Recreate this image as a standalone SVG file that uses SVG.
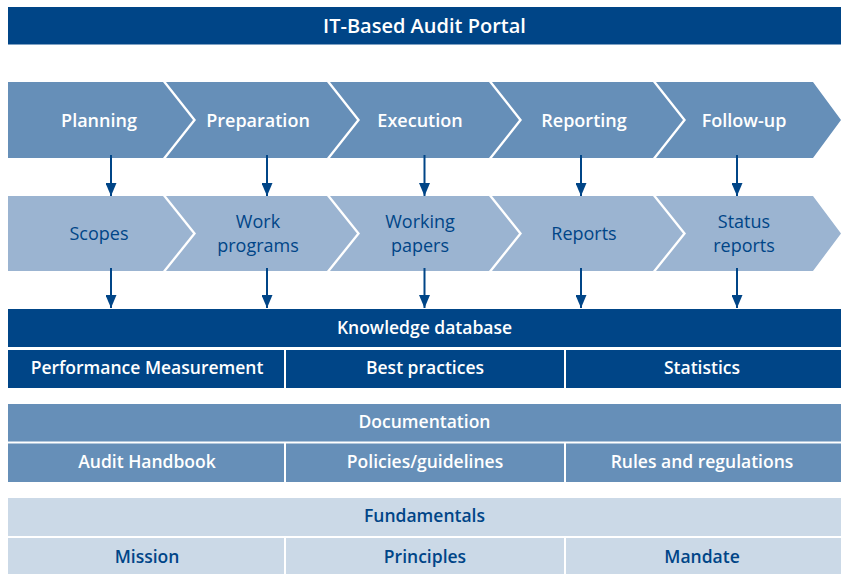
<svg xmlns="http://www.w3.org/2000/svg" width="841" height="574" viewBox="0 0 841 574">
<style>
  .dark{fill:#004587}
  .mid{fill:#668fb8}
  .light{fill:#9bb4d1}
  .pale{fill:#cbd9e7}
  text{font-family:"Open Sans","Noto Sans",sans-serif;text-anchor:middle}
  .tw{fill:#ffffff;font-weight:600;font-size:17.5px}
  .tb{fill:#004587;font-weight:600;font-size:17.5px}
  .tc{fill:#ffffff;font-weight:600;font-size:18px}
  .tr{fill:#004587;font-weight:400;font-size:18px}
  .conn{stroke:#004587;stroke-width:2;fill:none}
</style>
<defs>
  <marker id="ah" markerUnits="userSpaceOnUse" markerWidth="13" markerHeight="11" refX="13" refY="5.5" orient="auto">
    <path d="M0,0 L13,5.5 L0,11 z" fill="#004587"/>
  </marker>
</defs>
<rect width="841" height="574" fill="#ffffff"/>

<g id="portal">
  <rect class="dark" x="8" y="7" width="833" height="37.5"/>
  <text x="424.5" y="33" fill="#ffffff" style="font-weight:600;font-size:20px">IT-Based Audit Portal</text>
</g>

<g id="planning">
  <polygon class="mid" points="8,82 163,82 193,120 163,158 8,158"/>
  <text class="tc" x="99" y="127">Planning</text>
</g>
<g id="preparation">
  <polygon class="mid" points="166,82 327,82 357,120 327,158 166,158 196,120"/>
  <text class="tc" x="258" y="127">Preparation</text>
</g>
<g id="execution">
  <polygon class="mid" points="330,82 489,82 519,120 489,158 330,158 360,120"/>
  <text class="tc" x="420" y="127">Execution</text>
</g>
<g id="reporting">
  <polygon class="mid" points="492,82 653,82 683,120 653,158 492,158 522,120"/>
  <text class="tc" x="584" y="127">Reporting</text>
</g>
<g id="followup">
  <polygon class="mid" points="656,82 813,82 841,120 813,158 656,158 686,120"/>
  <text class="tc" x="744" y="127">Follow-up</text>
</g>

<g id="scopes">
  <polygon class="light" points="8,196 163,196 193,233.5 163,271 8,271"/>
  <text class="tr" x="99" y="240">Scopes</text>
</g>
<g id="workprograms">
  <polygon class="light" points="166,196 327,196 357,233.5 327,271 166,271 196,233.5"/>
  <text class="tr" x="258" y="228">Work</text>
  <text class="tr" x="258" y="252">programs</text>
</g>
<g id="workingpapers">
  <polygon class="light" points="330,196 489,196 519,233.5 489,271 330,271 360,233.5"/>
  <text class="tr" x="420" y="228">Working</text>
  <text class="tr" x="420" y="252">papers</text>
</g>
<g id="reports">
  <polygon class="light" points="492,196 653,196 683,233.5 653,271 492,271 522,233.5"/>
  <text class="tr" x="584" y="240">Reports</text>
</g>
<g id="statusreports">
  <polygon class="light" points="656,196 813,196 841,233.5 813,271 656,271 686,233.5"/>
  <text class="tr" x="744" y="228">Status</text>
  <text class="tr" x="744" y="252">reports</text>
</g>

<g id="knowledge">
  <rect class="dark" x="8" y="309" width="833" height="38"/>
  <text class="tw" x="424.5" y="334">Knowledge database</text>
</g>
<g id="performance">
  <rect class="dark" x="8" y="350" width="276" height="38"/>
  <text class="tw" x="147" y="374">Performance Measurement</text>
</g>
<g id="bestpractices">
  <rect class="dark" x="286" y="350" width="278" height="38"/>
  <text class="tw" x="425" y="374">Best practices</text>
</g>
<g id="statistics">
  <rect class="dark" x="566" y="350" width="275" height="38"/>
  <text class="tw" x="702" y="374">Statistics</text>
</g>

<g id="documentation">
  <rect class="mid" x="8" y="404" width="833" height="37.5"/>
  <text class="tw" x="424.5" y="428">Documentation</text>
</g>
<g id="handbook">
  <rect class="mid" x="8" y="443.5" width="276" height="38.5"/>
  <text class="tw" x="147" y="468">Audit Handbook</text>
</g>
<g id="policies">
  <rect class="mid" x="286" y="443.5" width="278" height="38.5"/>
  <text class="tw" x="425" y="468">Policies/guidelines</text>
</g>
<g id="rules">
  <rect class="mid" x="566" y="443.5" width="275" height="38.5"/>
  <text class="tw" x="702" y="468">Rules and regulations</text>
</g>

<g id="fundamentals">
  <rect class="pale" x="8" y="498" width="833" height="38"/>
  <text class="tb" x="424.5" y="522">Fundamentals</text>
</g>
<g id="mission">
  <rect class="pale" x="8" y="538" width="276" height="36"/>
  <text class="tb" x="147" y="563">Mission</text>
</g>
<g id="principles">
  <rect class="pale" x="286" y="538" width="278" height="36"/>
  <text class="tb" x="425" y="563">Principles</text>
</g>
<g id="mandate">
  <rect class="pale" x="566" y="538" width="275" height="36"/>
  <text class="tb" x="702" y="563">Mandate</text>
</g>

<g id="connectors">
  <line class="conn" x1="111" y1="155" x2="111" y2="196" marker-end="url(#ah)"/>
  <line class="conn" x1="267" y1="155" x2="267" y2="196" marker-end="url(#ah)"/>
  <line class="conn" x1="424.5" y1="155" x2="424.5" y2="196" marker-end="url(#ah)"/>
  <line class="conn" x1="581" y1="155" x2="581" y2="196" marker-end="url(#ah)"/>
  <line class="conn" x1="737" y1="155" x2="737" y2="196" marker-end="url(#ah)"/>
  <line class="conn" x1="111" y1="268" x2="111" y2="308" marker-end="url(#ah)"/>
  <line class="conn" x1="267" y1="268" x2="267" y2="308" marker-end="url(#ah)"/>
  <line class="conn" x1="424.5" y1="268" x2="424.5" y2="308" marker-end="url(#ah)"/>
  <line class="conn" x1="581" y1="268" x2="581" y2="308" marker-end="url(#ah)"/>
  <line class="conn" x1="737" y1="268" x2="737" y2="308" marker-end="url(#ah)"/>
</g>
</svg>
